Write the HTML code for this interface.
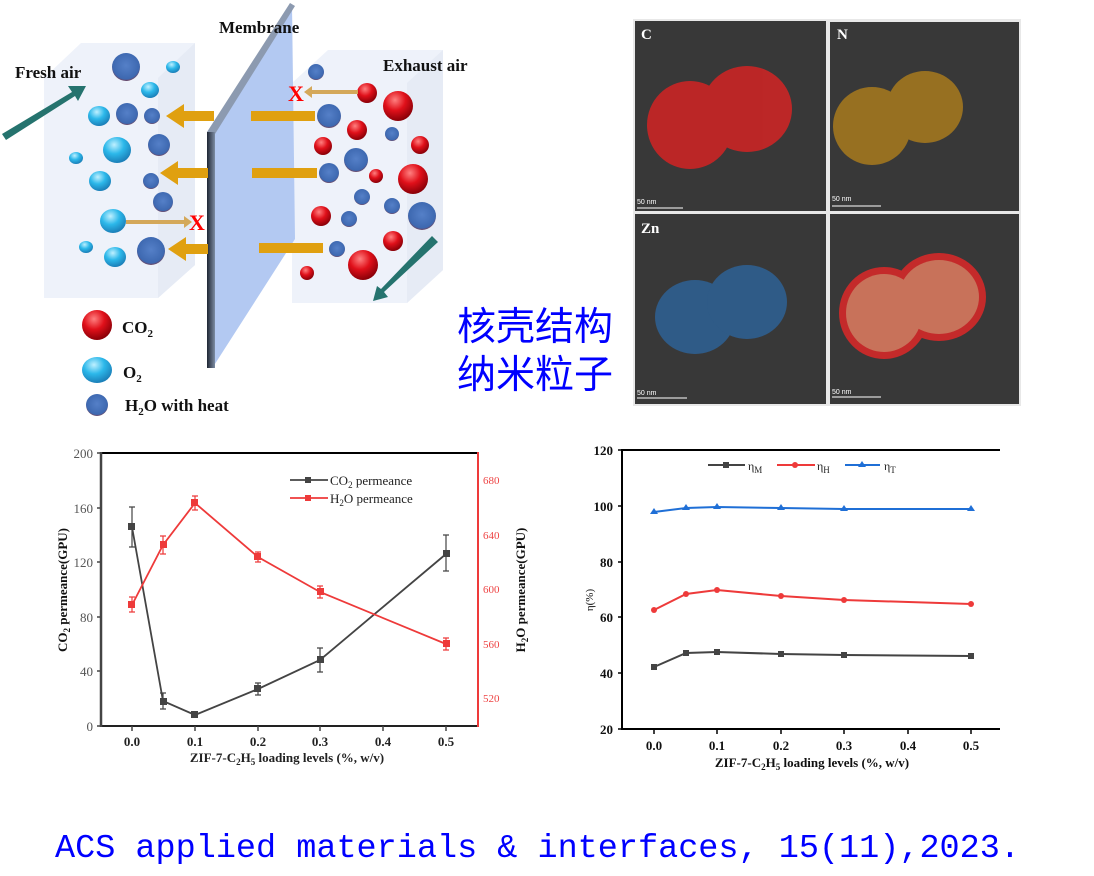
<!DOCTYPE html>
<html><head><meta charset="utf-8"><style>
html,body{margin:0;padding:0;background:#fff;}
svg{display:block;}
.t{font-family:"Liberation Serif",serif;}
</style></head><body>
<svg width="1094" height="876" viewBox="0 0 1094 876" xmlns="http://www.w3.org/2000/svg">
<defs>
<radialGradient id="gb" cx="40%" cy="30%" r="70%"><stop offset="0" stop-color="#bff0ff"/><stop offset="0.5" stop-color="#2cb8ea"/><stop offset="1" stop-color="#1b7fb8"/></radialGradient>
<radialGradient id="gr" cx="40%" cy="30%" r="70%"><stop offset="0" stop-color="#ff8080"/><stop offset="0.5" stop-color="#e0101a"/><stop offset="1" stop-color="#8a0008"/></radialGradient>
<radialGradient id="gh" cx="50%" cy="45%" r="60%"><stop offset="0" stop-color="#5580c8"/><stop offset="0.8" stop-color="#3d68b0"/><stop offset="1" stop-color="#9a2a20"/></radialGradient>
<linearGradient id="edge" x1="0" x2="1"><stop offset="0" stop-color="#1e2633"/><stop offset="1" stop-color="#7d8ca3"/></linearGradient>
</defs>
<rect width="1094" height="876" fill="#fff"/>

<!-- boxes -->
<polygon points="44,78 44,298 158,298 195,265 195,43 81,43" fill="#eef2fa"/>
<polygon points="158,78 195,43 195,265 158,298" fill="#e6ebf5"/>
<polygon points="292,83 292,303 407,303 443,270 443,50 328,50" fill="#eef2fa"/>
<polygon points="407,83 443,50 443,270 407,303" fill="#e6ebf5"/>

<!-- left spheres -->
<g>
<circle cx="126" cy="67" r="14" fill="url(#gh)"/>
<circle cx="127" cy="114" r="11" fill="url(#gh)"/>
<circle cx="152" cy="116" r="8" fill="url(#gh)"/>
<circle cx="159" cy="145" r="11" fill="url(#gh)"/>
<circle cx="151" cy="181" r="8" fill="url(#gh)"/>
<circle cx="163" cy="202" r="10" fill="url(#gh)"/>
<circle cx="151" cy="251" r="14" fill="url(#gh)"/>
<ellipse cx="173" cy="67" rx="7" ry="6" fill="url(#gb)"/>
<ellipse cx="150" cy="90" rx="9" ry="8" fill="url(#gb)"/>
<ellipse cx="99" cy="116" rx="11" ry="10" fill="url(#gb)"/>
<ellipse cx="117" cy="150" rx="14" ry="13" fill="url(#gb)"/>
<ellipse cx="76" cy="158" rx="7" ry="6" fill="url(#gb)"/>
<ellipse cx="100" cy="181" rx="11" ry="10" fill="url(#gb)"/>
<ellipse cx="113" cy="221" rx="13" ry="12" fill="url(#gb)"/>
<ellipse cx="86" cy="247" rx="7" ry="6" fill="url(#gb)"/>
<ellipse cx="115" cy="257" rx="11" ry="10" fill="url(#gb)"/>
</g>
<!-- right spheres -->
<g>
<circle cx="316" cy="72" r="8" fill="url(#gh)"/>
<circle cx="329" cy="116" r="12" fill="url(#gh)"/>
<circle cx="392" cy="134" r="7" fill="url(#gh)"/>
<circle cx="356" cy="160" r="12" fill="url(#gh)"/>
<circle cx="329" cy="173" r="10" fill="url(#gh)"/>
<circle cx="362" cy="197" r="8" fill="url(#gh)"/>
<circle cx="392" cy="206" r="8" fill="url(#gh)"/>
<circle cx="422" cy="216" r="14" fill="url(#gh)"/>
<circle cx="349" cy="219" r="8" fill="url(#gh)"/>
<circle cx="337" cy="249" r="8" fill="url(#gh)"/>
<circle cx="367" cy="93" r="10" fill="url(#gr)"/>
<circle cx="398" cy="106" r="15" fill="url(#gr)"/>
<circle cx="357" cy="130" r="10" fill="url(#gr)"/>
<circle cx="323" cy="146" r="9" fill="url(#gr)"/>
<circle cx="420" cy="145" r="9" fill="url(#gr)"/>
<circle cx="376" cy="176" r="7" fill="url(#gr)"/>
<circle cx="413" cy="179" r="15" fill="url(#gr)"/>
<circle cx="321" cy="216" r="10" fill="url(#gr)"/>
<circle cx="393" cy="241" r="10" fill="url(#gr)"/>
<circle cx="363" cy="265" r="15" fill="url(#gr)"/>
<circle cx="307" cy="273" r="7" fill="url(#gr)"/>
</g>

<!-- membrane -->
<polygon points="213,133 292,5 295,239 213,367" fill="#b3c9f2"/>
<polygon points="207,132 290,3 295,6 215,134" fill="#8c9ab0"/>
<rect x="207" y="132" width="8" height="236" fill="url(#edge)"/>

<!-- orange arrows -->
<g fill="#e0a010">
<rect x="182" y="111" width="32" height="10"/><polygon points="166,116 184,104 184,128"/>
<rect x="176" y="168" width="32" height="10"/><polygon points="160,173 178,161 178,185"/>
<rect x="184" y="244" width="24" height="10"/><polygon points="168,249 186,237 186,261"/>
<rect x="251" y="111" width="64" height="10"/>
<rect x="252" y="168" width="65" height="10"/>
<rect x="259" y="243" width="64" height="10"/>
</g>
<g fill="#d4a85a">
<rect x="126" y="220" width="60" height="4"/><polygon points="192,222 184,216 184,228"/>
<rect x="310" y="90" width="48" height="4"/><polygon points="304,92 312,86 312,98"/>
</g>
<text x="197" y="230" font-size="22" font-weight="bold" fill="#ff0000" text-anchor="middle" class="t">X</text>
<text x="296" y="101" font-size="22" font-weight="bold" fill="#ff0000" text-anchor="middle" class="t">X</text>
<!-- teal arrows -->
<g fill="#25736e">
<polygon points="2,134 72,92 68,86 86,86 78,101 75,96 6,140"/>
<polygon points="432,236 438,242 384,292 388,297 373,301 377,286 381,289"/>
</g>

<g class="t" font-weight="bold" fill="#111">
<text x="219" y="33" font-size="17">Membrane</text>
<text x="15" y="78" font-size="17">Fresh air</text>
<text x="383" y="71" font-size="17">Exhaust air</text>
<text x="122" y="333" font-size="17">CO<tspan font-size="11" dy="4">2</tspan></text>
<text x="123" y="378" font-size="17">O<tspan font-size="11" dy="4">2</tspan></text>
<text x="125" y="411" font-size="17">H<tspan font-size="11" dy="4">2</tspan><tspan dy="-4">O with heat</tspan></text>
</g>
<circle cx="97" cy="325" r="15" fill="url(#gr)"/>
<ellipse cx="97" cy="370" rx="15" ry="13" fill="url(#gb)"/>
<circle cx="97" cy="405" r="11" fill="url(#gh)"/>

<!-- Chinese -->
<g font-family="'Liberation Sans','Noto Sans CJK SC',sans-serif" font-size="39" fill="#0000ff">
<text x="457" y="340">核壳结构</text>
<text x="457" y="388">纳米粒子</text>
</g>

<!-- EDS panels -->
<rect x="633" y="19" width="388" height="387" fill="#e8e8e8"/>
<rect x="635" y="21" width="191" height="190" fill="#383838"/>
<rect x="830" y="22" width="189" height="189" fill="#383838"/>
<rect x="635" y="214" width="191" height="190" fill="#383838"/>
<rect x="830" y="214" width="189" height="190" fill="#383838"/>
<g fill="#d32424" opacity="0.85"><ellipse cx="690" cy="125" rx="43" ry="44"/><ellipse cx="747" cy="109" rx="45" ry="43"/></g>
<g fill="#a87a1e" opacity="0.85"><ellipse cx="872" cy="126" rx="39" ry="39"/><ellipse cx="925" cy="107" rx="38" ry="36"/></g>
<g fill="#2f5f90" opacity="0.9"><ellipse cx="695" cy="317" rx="40" ry="37"/><ellipse cx="747" cy="302" rx="40" ry="37"/></g>
<g fill="#c42a2a"><ellipse cx="884" cy="313" rx="45" ry="46"/><ellipse cx="939" cy="297" rx="47" ry="44"/></g>
<g fill="#c8725a"><ellipse cx="884" cy="313" rx="38" ry="39"/><ellipse cx="939" cy="297" rx="40" ry="37"/></g>
<g font-family="'Liberation Serif',serif" font-weight="bold" font-size="15" fill="#fff">
<text x="641" y="39">C</text><text x="837" y="39">N</text><text x="641" y="233">Zn</text></g>
<g font-family="'Liberation Sans',sans-serif" font-size="7" fill="#fff">
<text x="637" y="204">50 nm</text><text x="832" y="201">50 nm</text><text x="637" y="395">50 nm</text><text x="832" y="394">50 nm</text></g>
<g stroke="#fff" stroke-width="1"><line x1="637" y1="208" x2="683" y2="208"/><line x1="832" y1="206" x2="881" y2="206"/><line x1="637" y1="398" x2="687" y2="398"/><line x1="832" y1="397" x2="881" y2="397"/></g>

<!-- Left chart -->
<g class="t">
<line x1="101" y1="453" x2="478" y2="453" stroke="#000" stroke-width="2"/>
<line x1="101" y1="726" x2="478" y2="726" stroke="#222" stroke-width="2"/>
<line x1="101" y1="452" x2="101" y2="727" stroke="#444" stroke-width="2.5"/>
<line x1="478" y1="452" x2="478" y2="727" stroke="#ee3a3a" stroke-width="2"/>
<g stroke="#444" stroke-width="1.5">
<line x1="97" y1="453" x2="101" y2="453"/><line x1="97" y1="508" x2="101" y2="508"/><line x1="97" y1="562" x2="101" y2="562"/><line x1="97" y1="617" x2="101" y2="617"/><line x1="97" y1="671" x2="101" y2="671"/><line x1="97" y1="726" x2="101" y2="726"/>
<line x1="132" y1="726" x2="132" y2="731"/><line x1="195" y1="726" x2="195" y2="731"/><line x1="258" y1="726" x2="258" y2="731"/><line x1="320" y1="726" x2="320" y2="731"/><line x1="383" y1="726" x2="383" y2="731"/><line x1="446" y1="726" x2="446" y2="731"/>
</g>
<g fill="#555" font-size="13" text-anchor="end">
<text x="93" y="458">200</text><text x="93" y="513">160</text><text x="93" y="567">120</text><text x="93" y="622">80</text><text x="93" y="676">40</text><text x="93" y="731">0</text></g>
<g fill="#ee4444" font-size="11"><text x="483" y="484">680</text><text x="483" y="539">640</text><text x="483" y="593">600</text><text x="483" y="648">560</text><text x="483" y="702">520</text></g>
<g fill="#222" font-size="13" font-weight="bold" text-anchor="middle">
<text x="132" y="746">0.0</text><text x="195" y="746">0.1</text><text x="258" y="746">0.2</text><text x="320" y="746">0.3</text><text x="383" y="746">0.4</text><text x="446" y="746">0.5</text>
<text x="287" y="762">ZIF-7-C<tspan font-size="9" dy="3">2</tspan><tspan dy="-3">H</tspan><tspan font-size="9" dy="3">5</tspan><tspan dy="-3"> loading levels (%, w/v)</tspan></text>
</g>
<text transform="translate(67,590) rotate(-90)" font-size="13" font-weight="bold" fill="#111" text-anchor="middle">CO<tspan font-size="9" dy="3">2</tspan><tspan dy="-3"> permeance(GPU)</tspan></text>
<text transform="translate(525,590) rotate(-90)" font-size="13" font-weight="bold" fill="#111" text-anchor="middle">H<tspan font-size="9" dy="3">2</tspan><tspan dy="-3">O permeance(GPU)</tspan></text>
<!-- CO2 series -->
<g stroke="#444" stroke-width="1.2" fill="none">
<path d="M132,507v40m-3,-40h6m-6,40h6"/><path d="M163,693v16m-3,-16h6m-6,16h6"/><path d="M258,683v12m-3,-12h6m-6,12h6"/><path d="M320,648v24m-3,-24h6m-6,24h6"/><path d="M446,535v36m-3,-36h6m-6,36h6"/><path d="M195,712v4"/>
</g>
<polyline points="132,527 163,701 195,715 258,689 320,660 446,554" fill="none" stroke="#444" stroke-width="1.8"/>
<g fill="#444"><rect x="128" y="523" width="7" height="7"/><rect x="160" y="698" width="7" height="7"/><rect x="191" y="711" width="7" height="7"/><rect x="254" y="685" width="7" height="7"/><rect x="317" y="656" width="7" height="7"/><rect x="443" y="550" width="7" height="7"/></g>
<!-- H2O series -->
<g stroke="#ee3a3a" stroke-width="1.2" fill="none">
<path d="M132,597v15m-3,-15h6m-6,15h6"/><path d="M163,536v18m-3,-18h6m-6,18h6"/><path d="M195,496v14m-3,-14h6m-6,14h6"/><path d="M258,552v10m-3,-10h6m-6,10h6"/><path d="M320,586v12m-3,-12h6m-6,12h6"/><path d="M446,638v12m-3,-12h6m-6,12h6"/>
</g>
<polyline points="132,605 163,545 195,503 258,557 320,592 446,644" fill="none" stroke="#ee3a3a" stroke-width="1.8"/>
<g fill="#ee3a3a"><rect x="128" y="601" width="7" height="7"/><rect x="160" y="541" width="7" height="7"/><rect x="191" y="499" width="7" height="7"/><rect x="254" y="553" width="7" height="7"/><rect x="317" y="588" width="7" height="7"/><rect x="443" y="640" width="7" height="7"/></g>
<!-- legend -->
<line x1="290" y1="480" x2="328" y2="480" stroke="#444" stroke-width="1.8"/><rect x="305" y="477" width="6" height="6" fill="#444"/>
<line x1="290" y1="498" x2="328" y2="498" stroke="#ee3a3a" stroke-width="1.8"/><rect x="305" y="495" width="6" height="6" fill="#ee3a3a"/>
<text x="330" y="485" font-size="13" fill="#222">CO<tspan font-size="9" dy="3">2</tspan><tspan dy="-3"> permeance</tspan></text>
<text x="330" y="503" font-size="13" fill="#222">H<tspan font-size="9" dy="3">2</tspan><tspan dy="-3">O permeance</tspan></text>
</g>

<!-- Right chart -->
<g class="t">
<line x1="622" y1="450" x2="1000" y2="450" stroke="#000" stroke-width="2"/>
<line x1="622" y1="729" x2="1000" y2="729" stroke="#000" stroke-width="2"/>
<line x1="622" y1="449" x2="622" y2="730" stroke="#000" stroke-width="2"/>
<g stroke="#000" stroke-width="1.5">
<line x1="618" y1="450" x2="622" y2="450"/><line x1="618" y1="506" x2="622" y2="506"/><line x1="618" y1="562" x2="622" y2="562"/><line x1="618" y1="617" x2="622" y2="617"/><line x1="618" y1="673" x2="622" y2="673"/><line x1="618" y1="729" x2="622" y2="729"/>
<line x1="654" y1="729" x2="654" y2="734"/><line x1="717" y1="729" x2="717" y2="734"/><line x1="781" y1="729" x2="781" y2="734"/><line x1="844" y1="729" x2="844" y2="734"/><line x1="908" y1="729" x2="908" y2="734"/><line x1="971" y1="729" x2="971" y2="734"/>
</g>
<g fill="#111" font-size="13" font-weight="bold" text-anchor="end">
<text x="613" y="455">120</text><text x="613" y="511">100</text><text x="613" y="567">80</text><text x="613" y="622">60</text><text x="613" y="678">40</text><text x="613" y="734">20</text></g>
<g fill="#111" font-size="13" font-weight="bold" text-anchor="middle">
<text x="654" y="750">0.0</text><text x="717" y="750">0.1</text><text x="781" y="750">0.2</text><text x="844" y="750">0.3</text><text x="908" y="750">0.4</text><text x="971" y="750">0.5</text>
<text x="812" y="767">ZIF-7-C<tspan font-size="9" dy="3">2</tspan><tspan dy="-3">H</tspan><tspan font-size="9" dy="3">5</tspan><tspan dy="-3"> loading levels (%, w/v)</tspan></text>
</g>
<text transform="translate(593,600) rotate(-90)" font-size="11" fill="#111" text-anchor="middle">η(%)</text>
<polyline points="654,512 686,508 717,507 781,508 844,509 971,509" fill="none" stroke="#1f6fd6" stroke-width="2"/>
<g fill="#1f6fd6"><polygon points="654,508 658,514 650,514"/><polygon points="686,504 690,510 682,510"/><polygon points="717,503 721,509 713,509"/><polygon points="781,504 785,510 777,510"/><polygon points="844,505 848,511 840,511"/><polygon points="971,505 975,511 967,511"/></g>
<polyline points="654,610 686,594 717,590 781,596 844,600 971,604" fill="none" stroke="#ee3a3a" stroke-width="2"/>
<g fill="#ee3a3a"><circle cx="654" cy="610" r="3"/><circle cx="686" cy="594" r="3"/><circle cx="717" cy="590" r="3"/><circle cx="781" cy="596" r="3"/><circle cx="844" cy="600" r="3"/><circle cx="971" cy="604" r="3"/></g>
<polyline points="654,667 686,653 717,652 781,654 844,655 971,656" fill="none" stroke="#444" stroke-width="2"/>
<g fill="#444"><rect x="651" y="664" width="6" height="6"/><rect x="683" y="650" width="6" height="6"/><rect x="714" y="649" width="6" height="6"/><rect x="778" y="651" width="6" height="6"/><rect x="841" y="652" width="6" height="6"/><rect x="968" y="653" width="6" height="6"/></g>
<line x1="708" y1="465" x2="745" y2="465" stroke="#444" stroke-width="2"/><rect x="723" y="462" width="6" height="6" fill="#444"/>
<line x1="777" y1="465" x2="815" y2="465" stroke="#ee3a3a" stroke-width="2"/><circle cx="795" cy="465" r="3" fill="#ee3a3a"/>
<line x1="845" y1="465" x2="880" y2="465" stroke="#1f6fd6" stroke-width="2"/><polygon points="862,461 866,467 858,467" fill="#1f6fd6"/>
<g font-size="12" fill="#222"><text x="748" y="470">η<tspan font-size="9" dy="3">M</tspan></text><text x="817" y="470">η<tspan font-size="9" dy="3">H</tspan></text><text x="884" y="470">η<tspan font-size="9" dy="3">T</tspan></text></g>
</g>

<text x="55" y="857" font-family="'Liberation Mono',monospace" font-size="33.5" fill="#0000ff">ACS applied materials &amp; interfaces, 15(11),2023.</text>
</svg>
</body></html>
